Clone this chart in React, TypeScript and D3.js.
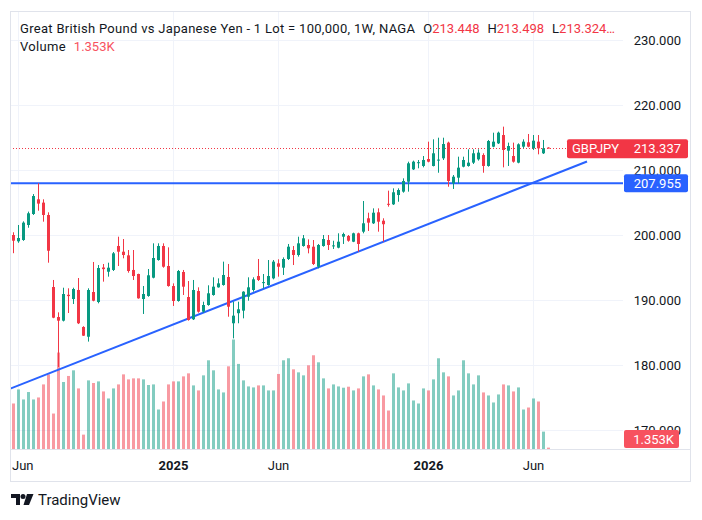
import React, { useEffect, useRef } from 'react';
import * as d3 from 'd3';

// Weekly GBPJPY candles, oldest first
const opens = [
  200.0, 199.03, 199.23, 201.54, 203.23, 205.49, 204.98, 203.08, 192.0, 187.38,
  186.82, 190.8, 190.15, 191.54, 185.85, 184.35, 191.23, 189.69, 195.0, 194.35,
  194.62, 198.31, 197.43, 196.87, 194.62, 194.0, 190.15, 190.62, 193.43, 196.15,
  198.31, 195.23, 192.15, 189.85, 194.31, 190.46, 187.03, 191.38, 188.2, 189.23,
  190.77, 191.95, 192.31, 193.54, 186.42, 187.97, 188.36, 190.51, 191.54, 193.69,
  192.6, 192.31, 193.33, 195.64, 194.97, 196.31, 197.69, 196.92, 198.31, 198.46,
  198.2, 195.12, 198.31, 199.23, 198.3, 198.05, 199.74, 199.85, 198.97, 200.26,
  200.51, 202.57, 201.8, 203.49, 202.2, 204.8, 204.72, 206.15, 206.67, 208.2,
  210.1, 211.05, 210.62, 211.69, 210.62, 211.5, 211.8, 214.21, 207.95, 208.82,
  210.51, 210.62, 211.13, 211.64, 212.31, 210.62, 213.59, 214.1, 215.38, 212.97,
  212.15, 211.13, 213.59, 214.26, 213.33, 214.36, 212.57, 213.448,
];
const highs = [
  200.42, 201.54, 202.1, 203.6, 206.3, 207.955, 205.49, 203.49, 193.08, 188.1,
  191.89, 191.8, 191.89, 193.38, 185.97, 191.8, 195.85, 195.38, 195.54, 195.74,
  197.38, 199.74, 199.38, 197.69, 197.69, 194.05, 192.15, 194.77, 198.72, 198.72,
  198.72, 198.1, 192.56, 194.62, 194.62, 192.92, 193.08, 191.95, 189.74, 192.26,
  193.49, 193.33, 195.9, 195.54, 189.74, 189.74, 191.35, 193.49, 193.49, 196.31,
  194.0, 196.15, 196.15, 196.26, 196.56, 198.62, 198.31, 199.74, 200.0, 199.33,
  199.23, 198.62, 200.0, 200.0, 199.12, 200.26, 200.36, 200.0, 200.36, 200.36,
  205.23, 203.43, 204.1, 204.1, 202.57, 206.82, 207.18, 207.18, 208.72, 211.28,
  211.44, 211.54, 212.15, 214.36, 214.72, 214.97, 214.97, 214.36, 209.23, 212.05,
  212.05, 213.18, 213.18, 213.18, 212.57, 214.62, 215.74, 215.9, 216.67, 214.21,
  214.21, 214.1, 214.72, 215.54, 215.38, 215.38, 214.62, 213.498,
];
const lows = [
  197.2, 198.8, 199.1, 201.12, 203.08, 203.74, 202.05, 195.74, 187.2, 179.7,
  186.7, 188.0, 189.38, 186.3, 184.46, 183.6, 189.8, 189.49, 192.82, 193.59,
  194.46, 195.23, 196.41, 194.2, 193.08, 190.2, 187.85, 190.5, 193.33, 196.05,
  194.97, 192.05, 189.08, 189.74, 190.77, 186.82, 186.92, 188.05, 188.05, 189.12,
  190.66, 191.9, 192.2, 187.43, 184.1, 186.42, 187.18, 189.89, 191.28, 192.92,
  191.8, 192.2, 193.18, 193.59, 193.85, 196.15, 195.38, 196.67, 198.2, 197.18,
  195.38, 194.87, 198.2, 197.69, 197.85, 197.95, 198.62, 198.97, 198.9, 197.43,
  200.26, 200.62, 201.69, 200.51, 198.97, 204.36, 204.62, 205.12, 206.51, 206.67,
  210.0, 210.26, 210.41, 211.18, 210.55, 209.58, 211.54, 207.43, 207.08, 207.95,
  210.41, 210.51, 210.92, 211.44, 209.58, 210.51, 213.49, 214.0, 210.41, 210.62,
  211.13, 211.03, 213.33, 213.49, 213.08, 212.41, 212.46, 213.324,
];
const closes = [
  199.12, 199.54, 201.9, 203.34, 206.0, 204.83, 203.08, 197.58, 187.28, 186.82,
  190.92, 190.6, 191.69, 186.42, 184.51, 191.54, 189.89, 194.92, 194.75, 194.97,
  197.18, 197.43, 196.92, 194.46, 193.69, 190.26, 190.92, 193.8, 196.46, 198.31,
  195.12, 192.15, 189.85, 194.46, 192.05, 186.92, 191.54, 188.2, 189.23, 191.03,
  192.05, 192.56, 193.85, 188.97, 187.59, 188.57, 191.28, 191.95, 193.18, 193.08,
  192.75, 193.69, 195.9, 195.12, 196.31, 198.2, 196.92, 198.72, 199.49, 197.95,
  195.54, 198.46, 199.38, 198.46, 198.4, 198.97, 200.15, 199.12, 200.26, 198.62,
  201.8, 201.9, 203.43, 202.05, 201.66, 204.7, 206.57, 206.92, 208.31, 211.03,
  211.28, 211.2, 211.54, 211.28, 212.57, 211.6, 214.0, 208.31, 208.97, 210.36,
  211.54, 211.13, 212.57, 212.67, 210.62, 214.46, 214.36, 215.74, 213.08, 213.69,
  211.28, 213.95, 214.36, 213.59, 214.51, 213.33, 213.33, 213.337,
];
// Weekly volume, thousands of lots
const volumes = [
  45.3, 59.3, 49.3, 56.7, 49.3, 51.3, 64.3, 74.3, 35.3, 96.0,
  66.7, 72.7, 78.3, 60.3, 14.3, 68.3, 65.7, 67.3, 57.3, 50.3,
  60.3, 64.3, 74.3, 69.3, 70.3, 70.3, 69.3, 63.7, 64.3, 39.3,
  47.3, 64.3, 67.3, 67.3, 72.3, 75.3, 63.3, 58.3, 73.3, 88.3,
  78.3, 59.3, 56.3, 82.3, 109.0, 84.7, 68.3, 62.3, 61.3, 63.3,
  63.3, 58.3, 58.3, 74.7, 88.3, 90.3, 79.3, 76.3, 73.3, 83.3,
  93.3, 86.3, 70.3, 60.3, 64.3, 62.3, 61.0, 62.0, 58.3, 60.3,
  72.3, 74.3, 63.3, 59.3, 53.3, 38.3, 75.3, 61.3, 58.3, 65.3,
  48.3, 45.3, 60.3, 58.3, 69.3, 90.3, 76.3, 72.3, 53.3, 58.3,
  88.3, 75.3, 64.3, 73.3, 56.3, 53.3, 46.3, 54.3, 64.3, 63.3,
  57.3, 61.3, 39.3, 41.3, 50.3, 47.3, 17.3, 1.353,
];

const priceTicks = [230, 220, 210, 200, 190, 180, 170];
const timeTickLabels = ['Jun', '2025', 'Jun', '2026', 'Jun'];
const timeTickBars = [1, 32, 53, 83, 104];

const supportLevel = 207.955;
const trendBars = [-1, 114.7];
const trendPrices = [176.25, 211.3];

const title = 'Great British Pound vs Japanese Yen - 1 Lot = 100,000, 1W, NAGA';
const symbol = 'GBPJPY';

const UP = '#089981';
const DOWN = '#F23645';
const BLUE = '#2962FF';
const TEXT = '#131722';
const FONT = 'Roboto, "Noto Sans", sans-serif';

const GbpJpyChart = () => {
  const svgRef = useRef(null);

  useEffect(() => {
    if (!svgRef.current) return;
    const svg = d3.select(svgRef.current);
    svg.selectAll('*').remove();

    // Layout of the price pane, price axis and time axis
    const frame = { left: 10, right: 690, top: 11, bottom: 481 };
    const pane = { left: 10, right: 623, top: 11, bottom: 449 };
    const axisRight = 681;

    const n = closes.length;
    const x = d3.scaleLinear().domain([0, 1]).range([13.5, 18.5]);
    const y = d3.scaleLinear().domain([170, 230]).range([430, 40]);
    const paneHeight = pane.bottom - pane.top;
    const yVol = d3
      .scaleLinear()
      .domain([0, d3.max(volumes)])
      .range([pane.bottom, pane.bottom - paneHeight * 0.25]);

    svg.append('rect').attr('width', 702).attr('height', 520).attr('fill', '#ffffff');

    const defs = svg.append('defs');
    defs
      .append('clipPath')
      .attr('id', 'pane-clip')
      .append('rect')
      .attr('x', pane.left)
      .attr('y', pane.top)
      .attr('width', pane.right - pane.left)
      .attr('height', pane.bottom - pane.top);

    // Grid
    const grid = svg.append('g');
    grid
      .selectAll('line.h')
      .data(priceTicks)
      .enter()
      .append('line')
      .attr('x1', pane.left)
      .attr('x2', pane.right)
      .attr('y1', (d) => Math.round(y(d)) + 0.5)
      .attr('y2', (d) => Math.round(y(d)) + 0.5)
      .attr('stroke', '#F0F3FA');
    grid
      .selectAll('line.v')
      .data(timeTickBars)
      .enter()
      .append('line')
      .attr('x1', (d) => x(d))
      .attr('x2', (d) => x(d))
      .attr('y1', pane.top)
      .attr('y2', pane.bottom)
      .attr('stroke', '#F0F3FA');

    const plot = svg.append('g').attr('clip-path', 'url(#pane-clip)');

    // Volume histogram
    plot
      .append('g')
      .selectAll('rect')
      .data(volumes)
      .enter()
      .append('rect')
      .attr('x', (d, i) => x(i) - 1.5)
      .attr('width', 3)
      .attr('y', (d) => yVol(d))
      .attr('height', (d) => pane.bottom - yVol(d))
      .attr('fill', (d, i) => (closes[i] >= opens[i] ? UP : DOWN))
      .attr('fill-opacity', 0.5);

    // Support level and rising trendline
    plot
      .append('line')
      .attr('x1', pane.left)
      .attr('x2', pane.right)
      .attr('y1', y(supportLevel))
      .attr('y2', y(supportLevel))
      .attr('stroke', BLUE)
      .attr('stroke-width', 2);
    plot
      .append('line')
      .attr('x1', x(trendBars[0]))
      .attr('y1', y(trendPrices[0]))
      .attr('x2', x(trendBars[1]))
      .attr('y2', y(trendPrices[1]))
      .attr('stroke', BLUE)
      .attr('stroke-width', 2);

    // Last price dotted line
    const last = n - 1;
    const lastY = Math.round(y(closes[last])) + 0.5;
    plot
      .append('line')
      .attr('x1', pane.left)
      .attr('x2', pane.right)
      .attr('y1', lastY)
      .attr('y2', lastY)
      .attr('stroke', DOWN)
      .attr('stroke-dasharray', '1 2');

    // Candles
    const candles = plot
      .append('g')
      .selectAll('g')
      .data(d3.range(n))
      .enter()
      .append('g')
      .attr('fill', (i) => (closes[i] >= opens[i] ? UP : DOWN))
      .attr('stroke', (i) => (closes[i] >= opens[i] ? UP : DOWN));
    candles
      .append('line')
      .attr('x1', (i) => x(i))
      .attr('x2', (i) => x(i))
      .attr('y1', (i) => y(highs[i]))
      .attr('y2', (i) => y(lows[i]))
      .attr('stroke-width', 1);
    candles
      .append('rect')
      .attr('stroke', 'none')
      .attr('x', (i) => x(i) - 1.5)
      .attr('width', 3)
      .attr('y', (i) => y(Math.max(opens[i], closes[i])))
      .attr('height', (i) => Math.max(1, Math.abs(y(opens[i]) - y(closes[i]))));

    // Frame and time axis line
    svg
      .append('rect')
      .attr('x', frame.left + 0.5)
      .attr('y', frame.top + 0.5)
      .attr('width', frame.right - frame.left)
      .attr('height', frame.bottom - frame.top)
      .attr('fill', 'none')
      .attr('stroke', '#E0E3EB');
    svg
      .append('line')
      .attr('x1', frame.left)
      .attr('x2', frame.right)
      .attr('y1', pane.bottom + 0.5)
      .attr('y2', pane.bottom + 0.5)
      .attr('stroke', '#E0E3EB');

    // Price axis labels
    svg
      .append('g')
      .selectAll('text')
      .data(priceTicks)
      .enter()
      .append('text')
      .attr('x', axisRight)
      .attr('y', (d) => y(d))
      .attr('dy', '0.35em')
      .attr('text-anchor', 'end')
      .style('font-family', FONT)
      .style('font-size', '13px')
      .style('fill', TEXT)
      .text((d) => d.toFixed(3));

    // Time axis labels
    const timeLabels = svg.append('g');
    timeTickLabels.forEach((label, k) => {
      const t = timeLabels
        .append('text')
        .attr('x', x(timeTickBars[k]))
        .attr('y', 470)
        .attr('text-anchor', 'middle')
        .style('font-family', FONT)
        .style('font-size', '13px')
        .style('font-weight', /^\d{4}$/.test(label) ? 'bold' : 'normal')
        .style('fill', TEXT)
        .text(label);
      const w = t.node().getComputedTextLength();
      if (x(timeTickBars[k]) - w / 2 < pane.left + 2) {
        t.attr('text-anchor', 'start').attr('x', pane.left + 2);
      }
    });

    // Axis tags: last price, support level, last volume
    const tag = (x0, x1, cy, h, fill) =>
      svg
        .append('rect')
        .attr('x', x0)
        .attr('y', cy - h / 2)
        .attr('width', x1 - x0)
        .attr('height', h)
        .attr('rx', 2)
        .attr('fill', fill);
    const tagText = (tx, cy, anchor, str) =>
      svg
        .append('text')
        .attr('x', tx)
        .attr('y', cy)
        .attr('dy', '0.35em')
        .attr('text-anchor', anchor)
        .style('font-family', FONT)
        .style('font-size', '13px')
        .style('fill', '#ffffff')
        .text(str);

    const lastTagY = y(closes[last]);
    tag(567, 688, lastTagY + 0.5, 19, DOWN);
    tagText(572, lastTagY + 0.5, 'start', symbol);
    tagText(axisRight, lastTagY + 0.5, 'end', closes[last].toFixed(3));

    const supY = y(supportLevel);
    tag(624, 688, supY, 18, BLUE);
    tagText(axisRight, supY, 'end', supportLevel.toFixed(3));

    tag(624, 679, pane.bottom - 10, 18, '#F7525F');
    tagText(674, pane.bottom - 10, 'end', `${volumes[last].toFixed(3)}K`);

    // Legend
    const legend = svg
      .append('text')
      .attr('x', 20)
      .attr('y', 33)
      .style('font-family', FONT)
      .style('font-size', '13px')
      .style('fill', TEXT);
    legend.append('tspan').style('letter-spacing', '0.3px').text(title);
    const ohlc = [
      ['O', opens[last].toFixed(3)],
      ['H', highs[last].toFixed(3)],
      ['L', `${lows[last].toFixed(3)}…`],
    ];
    ohlc.forEach(([k, v]) => {
      legend.append('tspan').attr('dx', 8).text(k);
      legend.append('tspan').style('fill', DOWN).text(v);
    });

    const volLegend = svg
      .append('text')
      .attr('x', 20)
      .attr('y', 51)
      .style('font-family', FONT)
      .style('font-size', '13px')
      .style('fill', TEXT);
    volLegend.append('tspan').style('letter-spacing', '0.3px').text('Volume');
    volLegend
      .append('tspan')
      .attr('dx', 8)
      .style('fill', '#F7525F')
      .text(`${volumes[last].toFixed(3)}K`);

    // TradingView mark
    const logo = svg.append('g').attr('fill', TEXT);
    logo.append('path').attr('d', 'M11 494 h9 v11 h-4 v-7 h-5 z');
    logo.append('circle').attr('cx', 23).attr('cy', 496.5).attr('r', 2.5);
    logo.append('path').attr('d', 'M27 494 h6.5 l-4.5 11 h-5.5 z');
    svg
      .append('text')
      .attr('x', 38)
      .attr('y', 505)
      .style('font-family', FONT)
      .style('font-size', '15px')
      .style('fill', TEXT)
      .text('TradingView');
  }, []);

  return <svg ref={svgRef} width={702} height={520} style={{ display: 'block' }} />;
};

export default function App() {
  return (
    <div style={{ position: 'absolute', left: 0, top: 0, width: 702, height: 520 }}>
      <GbpJpyChart />
    </div>
  );
}
